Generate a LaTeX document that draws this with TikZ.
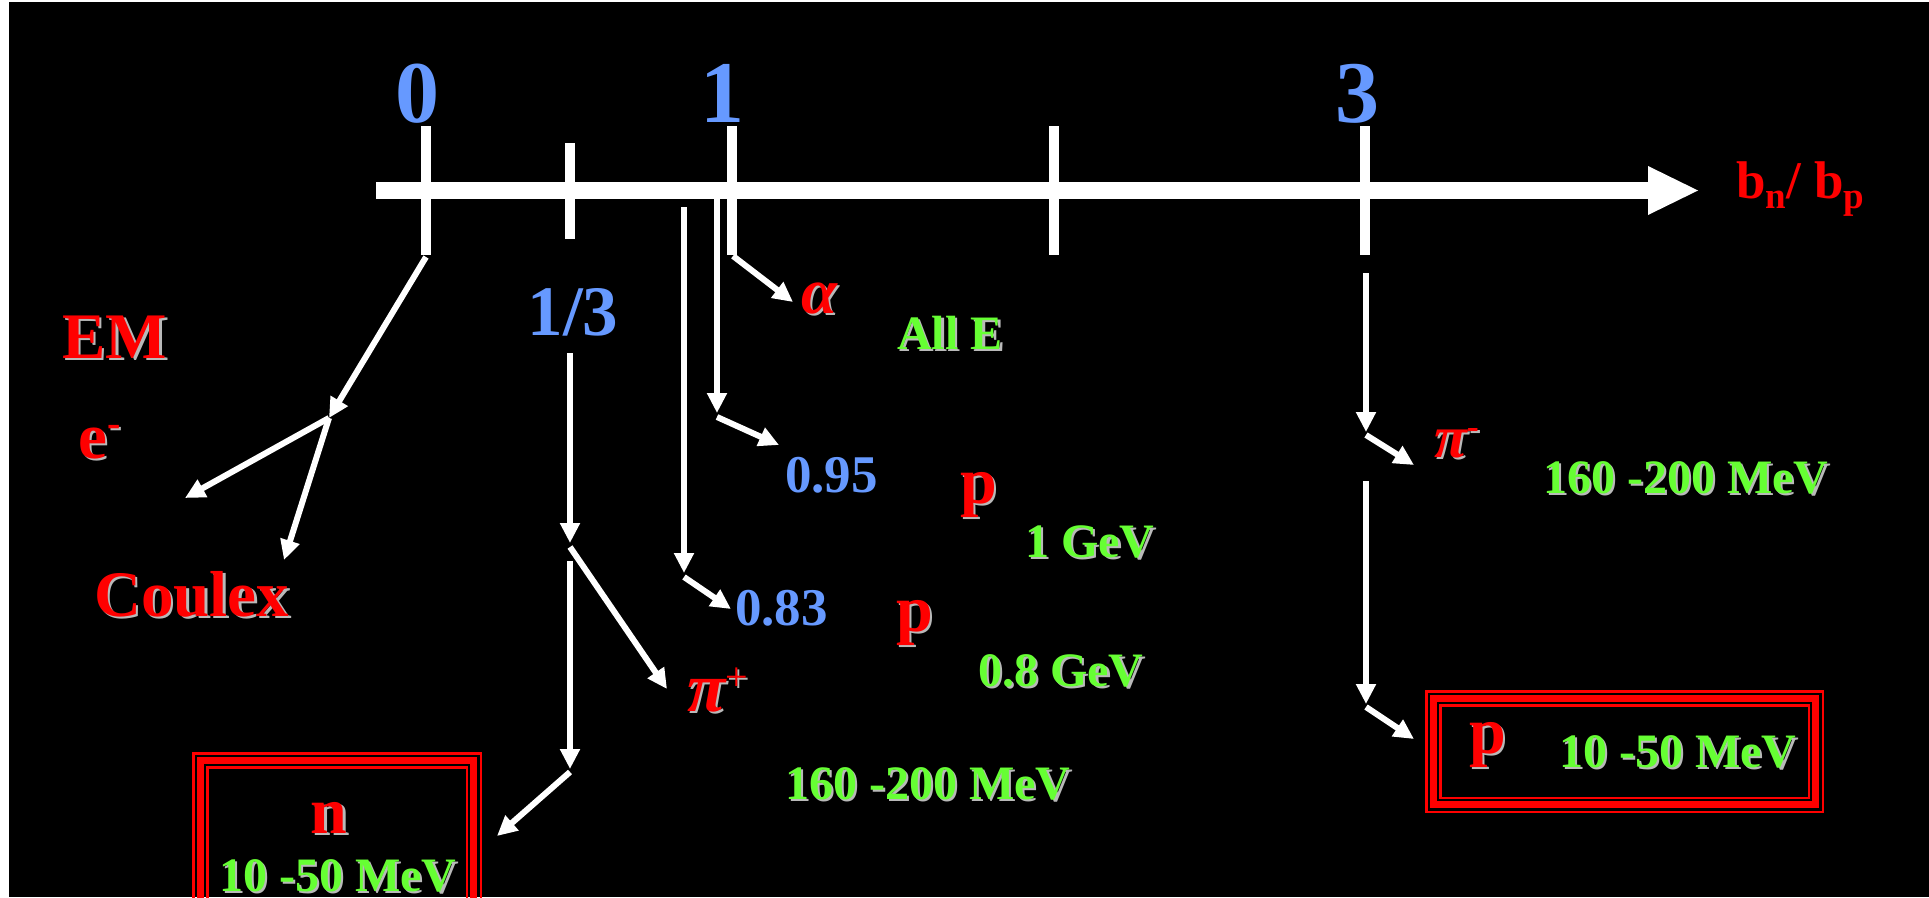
\documentclass[tikz,border=0pt]{standalone}
\usepackage{fontspec}
\setmainfont{Liberation Serif}
\usetikzlibrary{arrows.meta}
\definecolor{axblue}{RGB}{102,153,255}
\definecolor{txred}{RGB}{255,0,0}
\definecolor{txgreen}{RGB}{102,255,51}
\definecolor{shgray}{RGB}{185,185,185}
\newcommand\shd[2]{\rlap{\kern2.5pt\raisebox{-2.5pt}{\color{shgray}#2}}{\color{#1}#2}}
\newcommand\fs[1]{\fontsize{#1}{#1}\selectfont}
\newcommand\tribox[2]{%
  \draw[txred, line width=2.5pt] ([shift={(1.25,1.25)}]#1) rectangle ([shift={(-1.25,-1.25)}]#2);
  \draw[txred, line width=7pt] ([shift={(8.5,8.5)}]#1) rectangle ([shift={(-8.5,-8.5)}]#2);
  \draw[txred, line width=2.5pt] ([shift={(15.25,15.25)}]#1) rectangle ([shift={(-15.25,-15.25)}]#2);}
\begin{document}
\begin{tikzpicture}[x=1pt,y=-1pt,
  lbl/.style={inner sep=0pt, anchor=base west, font=\bfseries},
  arr/.style={draw=white, line width=6pt, -{Triangle[length=20pt,width=19pt]}},
  tickmark/.style={draw=white, line width=10pt},
  blue/.style={text=axblue},
]
\useasboundingbox (0,0) rectangle (1929,897);
\fill[white] (0,0) rectangle (1929,897);
\fill[black] (9,2) rectangle (1929,897);

% axis
\fill[white] (376,182) rectangle (1650,199);
\fill[white] (1648,166) -- (1698,190.5) -- (1648,215) -- cycle;

% ticks
\coordinate (t0a) at (426,126); \coordinate (t0b) at (426,255);
\coordinate (tta) at (570,143); \coordinate (ttb) at (570,239);
\coordinate (t1a) at (732,126); \coordinate (t1b) at (732,255);
\coordinate (t2a) at (1054,126); \coordinate (t2b) at (1054,255);
\coordinate (t3a) at (1365,126); \coordinate (t3b) at (1365,255);
\draw[tickmark] (t0a) -- (t0b);
\draw[tickmark] (tta) -- (ttb);
\draw[tickmark] (t1a) -- (t1b);
\draw[tickmark] (t2a) -- (t2b);
\draw[tickmark] (t3a) -- (t3b);

% axis labels
\node[lbl, anchor=base, blue, font=\bfseries\fs{88}] (l0) at (417,122) {0};
\node[lbl, anchor=base, blue, font=\bfseries\fs{88}] (l1) at (722,122) {1};
\node[lbl, anchor=base, blue, font=\bfseries\fs{88}] (l3) at (1357,122) {3};
\node[lbl, anchor=base, blue, font=\bfseries\fs{71}] (lt) at (573,335) {1/3};
\node[lbl, text=txred, font=\bfseries\fs{53}] (bnbp) at (1736,198)
  {b\raisebox{-10pt}{\fs{37}n}/ b\raisebox{-10pt}{\fs{37}p}};

% left texts
\node[lbl, font=\bfseries\fs{65}] (em) at (62,358) {\shd{txred}{EM}};
\node[lbl, font=\bfseries\fs{65}] (eminus) at (78,458) {\shd{txred}{e\raisebox{22pt}{\fs{40}-}}};
\node[lbl, font=\bfseries\fs{65}] (coulex) at (94,616) {\shd{txred}{Coulex}};

% middle texts
\node[lbl, font=\bfseries\itshape\fs{65}] (alpha) at (801,313) {\shd{txred}{α}};
\node[lbl, font=\bfseries\fs{48}] (alle) at (897,349) {\shd{txgreen}{All E}};
\node[lbl, blue, font=\bfseries\fs{53}] (v95) at (785,492) {0.95};
\node[lbl, font=\bfseries\fs{66}] (p1) at (960,503) {\shd{txred}{p}};
\node[lbl, font=\bfseries\fs{48}] (g1) at (1025,557) {\shd{txgreen}{1 GeV}};
\node[lbl, blue, font=\bfseries\fs{53}] (v83) at (735,625) {0.83};
\node[lbl, font=\bfseries\fs{66}] (p2) at (896,631) {\shd{txred}{p}};
\node[lbl, font=\bfseries\fs{48}] (g08) at (978,686) {\shd{txgreen}{0.8 GeV}};
\node[lbl, font=\bfseries\fs{70}] (piplus) at (687,711)
  {\shd{txred}{\itshape π\upshape\mdseries\raisebox{21pt}{\fs{40}+}}};
\node[lbl, font=\bfseries\fs{48}] (e160a) at (785,799) {\shd{txgreen}{160 -200 MeV}};

% right texts
\node[lbl, font=\bfseries\fs{60}] (piminus) at (1434,457)
  {\shd{txred}{\itshape π\upshape\raisebox{19pt}{\fs{36}-}}};
\node[lbl, font=\bfseries\fs{48}] (e160b) at (1543,493) {\shd{txgreen}{160 -200 MeV}};

% right box
\coordinate (rb1) at (1425,690); \coordinate (rb2) at (1824,813);
\tribox{rb1}{rb2}
\node[lbl, font=\bfseries\fs{66}] (pbox) at (1469,753) {\shd{txred}{p}};
\node[lbl, font=\bfseries\fs{48}] (e1050b) at (1559,767) {\shd{txgreen}{10 -50 MeV}};

% left box (cut by the frame)
\begin{scope}
\clip (9,2) rectangle (1929,897);
\coordinate (lb1) at (192,752); \coordinate (lb2) at (482,960);
\tribox{lb1}{lb2}
\end{scope}
\node[lbl, anchor=base, font=\bfseries\fs{66}] (nbox) at (329,833) {\shd{txred}{n}};
\node[lbl, font=\bfseries\fs{48}] (e1050a) at (219,891) {\shd{txgreen}{10 -50 MeV}};

% arrows from 0
\coordinate (a0s) at (426,257);
\coordinate (br0) at (329,418);
\coordinate (c1) at (185,498);
\coordinate (c2) at (284,560);
\draw[arr] (a0s) -- (br0);
\draw[arr] (br0) -- (c1);
\draw[arr] (br0) -- (c2);

% alpha
\coordinate (al1) at (733,256);
\coordinate (al2) at (793,302);
\draw[arr] (al1) -- (al2);

% 0.95
\coordinate (n95a) at (717,199); \coordinate (n95b) at (717,413);
\coordinate (n95c) at (717,417); \coordinate (n95d) at (779,445);
\draw[arr] (n95a) -- (n95b);
\draw[arr] (n95c) -- (n95d);

% 0.83
\coordinate (n83a) at (684,207); \coordinate (n83b) at (684,573);
\coordinate (n83c) at (684,577); \coordinate (n83d) at (731,609);
\draw[arr] (n83a) -- (n83b);
\draw[arr] (n83c) -- (n83d);

% 1/3
\coordinate (s1) at (570,353); \coordinate (s2) at (570,543);
\coordinate (s3) at (570,547); \coordinate (s4) at (667,689);
\coordinate (s5) at (570,561); \coordinate (s6) at (570,769);
\coordinate (s7) at (570,772); \coordinate (s8) at (497,836);
\draw[arr] (s1) -- (s2);
\draw[arr] (s3) -- (s4);
\draw[arr] (s5) -- (s6);
\draw[arr] (s7) -- (s8);

% 3
\coordinate (r1) at (1366,273); \coordinate (r2) at (1366,432);
\coordinate (r3) at (1366,435); \coordinate (r4) at (1414,465);
\coordinate (r5) at (1366,481); \coordinate (r6) at (1366,704);
\coordinate (r7) at (1366,707); \coordinate (r8) at (1414,739);
\draw[arr] (r1) -- (r2);
\draw[arr] (r3) -- (r4);
\draw[arr] (r5) -- (r6);
\draw[arr] (r7) -- (r8);
\end{tikzpicture}
\end{document}
